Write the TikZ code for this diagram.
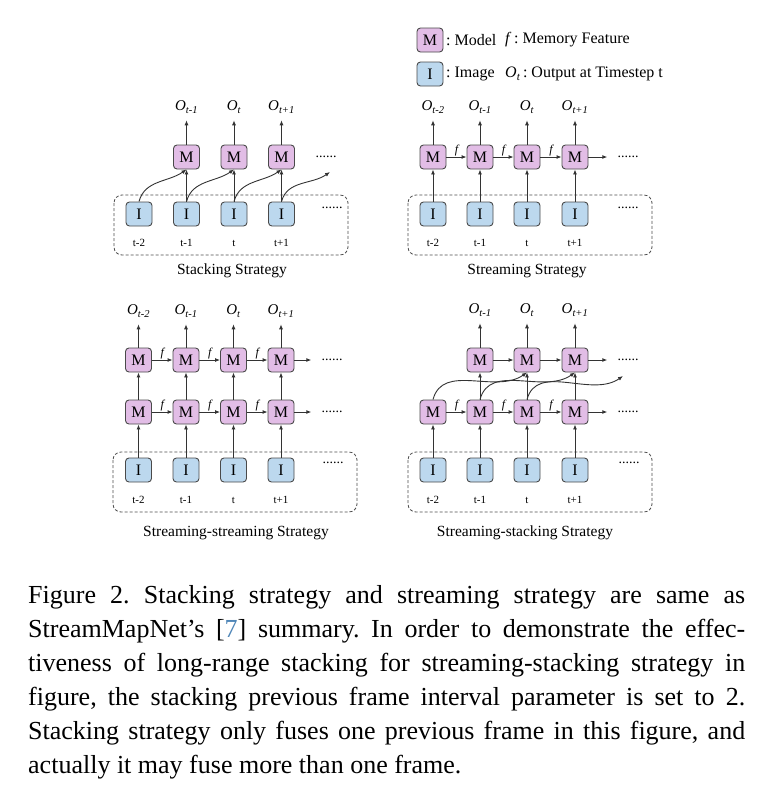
\documentclass[tikz,border=0pt]{standalone}
\usepackage{fontspec}
\setmainfont{Liberation Serif}
\usetikzlibrary{arrows.meta, positioning}
\definecolor{mfill}{HTML}{E2BDE6}
\definecolor{ifill}{HTML}{BCD8EE}
\definecolor{boxline}{HTML}{4A4A4A}
\definecolor{citeblue}{HTML}{4F86B8}
\frenchspacing

\begin{document}
\begin{tikzpicture}[
    x=1pt, y=-1pt,
    model/.style={rectangle, rounded corners=3.5pt, draw=boxline, fill=mfill, line width=0.9pt, minimum width=26pt, minimum height=24pt, inner sep=0pt, font=\fontsize{16}{16}\selectfont},
    image/.style={rectangle, rounded corners=3.5pt, draw=boxline, fill=ifill, line width=0.9pt, minimum width=26pt, minimum height=24pt, inner sep=0pt, font=\fontsize{16}{16}\selectfont},
    output/.style={inner sep=1pt, font=\fontsize{15}{15}\selectfont\itshape},
    tstamp/.style={inner sep=0pt, font=\fontsize{11}{11}\selectfont},
    dots/.style={inner sep=0pt, font=\fontsize{14}{14}\selectfont},
    feat/.style={inner sep=1pt, font=\fontsize{12}{12}\selectfont\itshape},
    legend/.style={anchor=west, inner sep=0pt, font=\fontsize{16}{16}\selectfont},
    title/.style={font=\fontsize{15.5}{15.5}\selectfont},
    frame/.style={draw=black!70, dash pattern=on 3pt off 2pt, rounded corners=8pt, line width=0.8pt},
    arrow/.style={-{Latex[length=5pt, width=4pt]}, line width=0.9pt, draw=black!80},
    toout/.style={arrow, shorten >=6pt}
]
\useasboundingbox (0,0) rectangle (768,807);

% Legend
\node[model] (lm) at (430,40) {M};
\node[legend] at (446,40) {: Model};
\node[legend] at (505,40) {\textit{f}\,: Memory Feature};
\node[image] (li) at (430,74) {I};
\node[legend] at (446,74) {: Image};
\node[legend] at (505,74) {\textit{O\textsubscript{t}}\,: Output at Timestep t};

% Stacking strategy
\draw[frame] (114,195) rectangle (348,255);
\node[image] (aI1) at (139,214) {I};
\node[image] (aI2) at (186.5,214) {I};
\node[image] (aI3) at (234,214) {I};
\node[image] (aI4) at (281.5,214) {I};
\node[tstamp] at (139,243) {t-2};
\node[tstamp] at (186.5,243) {t-1};
\node[tstamp] at (234,243) {t};
\node[tstamp] at (281.5,243) {t+1};
\node[dots] (aD2) at (332,208) {......};

\node[model] (aM2) at (186.5,157) {M};
\node[model] (aM3) at (234,157) {M};
\node[model] (aM4) at (281.5,157) {M};
\node[dots] (aD1) at (326,157) {......};

\node[output] (aO2) at (186.5,107) {O\textsubscript{t-1}};
\node[output] (aO3) at (234,107) {O\textsubscript{t}};
\node[output] (aO4) at (281.5,107) {O\textsubscript{t+1}};
\coordinate (aE) at (330,172);

\draw[arrow] (aI2) -- (aM2);
\draw[arrow] (aI3) -- (aM3);
\draw[arrow] (aI4) -- (aM4);
\draw[toout] (aM2) -- (aO2.south);
\draw[toout] (aM3) -- (aO3.south);
\draw[toout] (aM4) -- (aO4.south);
\draw[arrow] (aI1.north) to[out=75, in=215] (aM2.south);
\draw[arrow] (aI2.north) to[out=75, in=215] (aM3.south);
\draw[arrow] (aI3.north) to[out=75, in=215] (aM4.south);
\draw[arrow] (aI4.north) to[out=75, in=215] (aE);

\node[title] at (232,271) {Stacking Strategy};

% Streaming strategy
\draw[frame] (408,195) rectangle (652,255);
\node[image] (bI1) at (433,214) {I};
\node[image] (bI2) at (480,214) {I};
\node[image] (bI3) at (527,214) {I};
\node[image] (bI4) at (575,214) {I};
\node[tstamp] at (433,243) {t-2};
\node[tstamp] at (480,243) {t-1};
\node[tstamp] at (527,243) {t};
\node[tstamp] at (575,243) {t+1};
\node[dots] (bD2) at (628,208) {......};

\node[model] (bM1) at (433,157) {M};
\node[model] (bM2) at (480,157) {M};
\node[model] (bM3) at (527,157) {M};
\node[model] (bM4) at (575,157) {M};
\node[dots] (bD1) at (628,157) {......};

\node[output] (bO1) at (433,107) {O\textsubscript{t-2}};
\node[output] (bO2) at (480,107) {O\textsubscript{t-1}};
\node[output] (bO3) at (527,107) {O\textsubscript{t}};
\node[output] (bO4) at (575,107) {O\textsubscript{t+1}};

\draw[arrow] (bI1) -- (bM1);
\draw[arrow] (bI2) -- (bM2);
\draw[arrow] (bI3) -- (bM3);
\draw[arrow] (bI4) -- (bM4);
\draw[arrow] (bM1) -- node[feat, above] {f} (bM2);
\draw[arrow] (bM2) -- node[feat, above] {f} (bM3);
\draw[arrow] (bM3) -- node[feat, above] {f} (bM4);
\draw[arrow, shorten >=10pt] (bM4) -- (bD1.west);
\draw[toout] (bM1) -- (bO1.south);
\draw[toout] (bM2) -- (bO2.south);
\draw[toout] (bM3) -- (bO3.south);
\draw[toout] (bM4) -- (bO4.south);

\node[title] at (527,271) {Streaming Strategy};

% Streaming-streaming strategy
\draw[frame] (113,452) rectangle (357,512);
\node[image] (cI1) at (138.5,470) {I};
\node[image] (cI2) at (186,470) {I};
\node[image] (cI3) at (233.5,470) {I};
\node[image] (cI4) at (281,470) {I};
\node[tstamp] at (138.5,500) {t-2};
\node[tstamp] at (186,500) {t-1};
\node[tstamp] at (233.5,500) {t};
\node[tstamp] at (281,500) {t+1};
\node[dots] (cD3) at (333,463) {......};

\node[model] (cM1) at (138.5,412) {M};
\node[model] (cM2) at (186,412) {M};
\node[model] (cM3) at (233.5,412) {M};
\node[model] (cM4) at (281,412) {M};
\node[dots] (cD2) at (332,412) {......};

\node[model] (cU1) at (138.5,360) {M};
\node[model] (cU2) at (186,360) {M};
\node[model] (cU3) at (233.5,360) {M};
\node[model] (cU4) at (281,360) {M};
\node[dots] (cD1) at (332,360) {......};

\node[output] (cO1) at (138.5,311) {O\textsubscript{t-2}};
\node[output] (cO2) at (186,311) {O\textsubscript{t-1}};
\node[output] (cO3) at (233.5,311) {O\textsubscript{t}};
\node[output] (cO4) at (281,311) {O\textsubscript{t+1}};

\draw[arrow] (cI1) -- (cM1);
\draw[arrow] (cI2) -- (cM2);
\draw[arrow] (cI3) -- (cM3);
\draw[arrow] (cI4) -- (cM4);
\draw[arrow] (cM1) -- (cU1);
\draw[arrow] (cM2) -- (cU2);
\draw[arrow] (cM3) -- (cU3);
\draw[arrow] (cM4) -- (cU4);
\draw[arrow] (cM1) -- node[feat, above] {f} (cM2);
\draw[arrow] (cM2) -- node[feat, above] {f} (cM3);
\draw[arrow] (cM3) -- node[feat, above] {f} (cM4);
\draw[arrow, shorten >=10pt] (cM4) -- (cD2.west);
\draw[arrow] (cU1) -- node[feat, above] {f} (cU2);
\draw[arrow] (cU2) -- node[feat, above] {f} (cU3);
\draw[arrow] (cU3) -- node[feat, above] {f} (cU4);
\draw[arrow, shorten >=10pt] (cU4) -- (cD1.west);
\draw[toout] (cU1) -- (cO1.south);
\draw[toout] (cU2) -- (cO2.south);
\draw[toout] (cU3) -- (cO3.south);
\draw[toout] (cU4) -- (cO4.south);

\node[title] at (236,533) {Streaming-streaming Strategy};

% Streaming-stacking strategy
\draw[frame] (408,452) rectangle (652,512);
\node[image] (dI1) at (433,470) {I};
\node[image] (dI2) at (480,470) {I};
\node[image] (dI3) at (527,470) {I};
\node[image] (dI4) at (575,470) {I};
\node[tstamp] at (433,500) {t-2};
\node[tstamp] at (480,500) {t-1};
\node[tstamp] at (527,500) {t};
\node[tstamp] at (575,500) {t+1};
\node[dots] (dD3) at (629,463) {......};

\node[model] (dM1) at (433,412) {M};
\node[model] (dM2) at (480,412) {M};
\node[model] (dM3) at (527,412) {M};
\node[model] (dM4) at (575,412) {M};
\node[dots] (dD2) at (628,412) {......};

\node[model] (dS2) at (480,360) {M};
\node[model] (dS3) at (527,360) {M};
\node[model] (dS4) at (575,360) {M};
\node[dots] (dD1) at (628,360) {......};

\node[output] (dO2) at (480,310) {O\textsubscript{t-1}};
\node[output] (dO3) at (527,310) {O\textsubscript{t}};
\node[output] (dO4) at (575,310) {O\textsubscript{t+1}};
\coordinate (dE) at (623,376);

\draw[arrow] (dI1) -- (dM1);
\draw[arrow] (dI2) -- (dM2);
\draw[arrow] (dI3) -- (dM3);
\draw[arrow] (dI4) -- (dM4);
\draw[arrow] (dM2) -- (dS2);
\draw[arrow] (dM3) -- (dS3);
\draw[arrow] (dM4) -- (dS4);
\draw[arrow] (dM1) -- node[feat, above] {f} (dM2);
\draw[arrow] (dM2) -- node[feat, above] {f} (dM3);
\draw[arrow] (dM3) -- node[feat, above] {f} (dM4);
\draw[arrow, shorten >=10pt] (dM4) -- (dD2.west);
\draw[arrow] (dS2) -- (dS3);
\draw[arrow] (dS3) -- (dS4);
\draw[arrow, shorten >=10pt] (dS4) -- (dD1.west);
\draw[arrow] (dM1.north) to[out=75, in=215] (dS3.south);
\draw[arrow] (dM2.north) to[out=75, in=215] (dS4.south);
\draw[arrow] (dM3.north) to[out=75, in=215] (dE);
\draw[toout] (dS2) -- (dO2.south);
\draw[toout] (dS3) -- (dO3.south);
\draw[toout] (dS4) -- (dO4.south);

\node[title] at (525,533) {Streaming-stacking Strategy};

% Caption
\node[anchor=north west, inner sep=0pt, text width=717pt, align=justify,
      font=\fontsize{26}{34}\selectfont] (cap) at (28,585)
  {Figure 2. Stacking strategy and streaming strategy are same as\linebreak
   StreamMapNet’s [\textcolor{citeblue}{7}] summary. In order to demonstrate the effec-\linebreak
   tiveness of long-range stacking for streaming-stacking strategy in\linebreak
   figure, the stacking previous frame interval parameter is set to 2.\linebreak
   Stacking strategy only fuses one previous frame in this figure, and\linebreak
   actually it may fuse more than one frame.};

\end{tikzpicture}
\end{document}
